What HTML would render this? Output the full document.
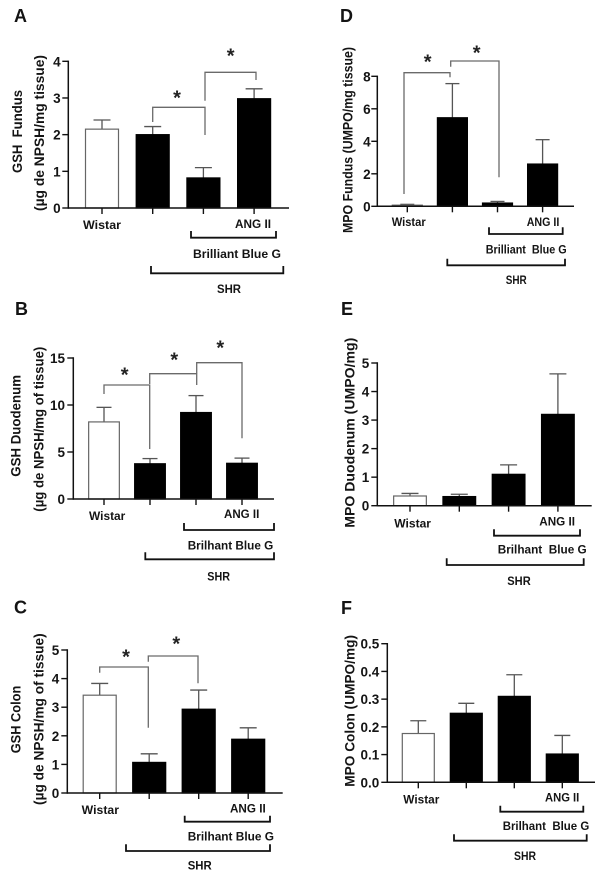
<!DOCTYPE html>
<html lang="en">
<head>
<meta charset="utf-8">
<title>GSH and MPO bar charts</title>
<style>
html,body{margin:0;padding:0;background:#fff;width:600px;height:878px;overflow:hidden}
svg{display:block}
text{font-family:"Liberation Sans",sans-serif;font-weight:bold;fill:#141414}
.letter{font-size:18px}
.yl{font-size:14px}
.xl{font-size:12px}
.star{font-size:20px;text-anchor:middle;fill:#222}
.sig{fill:none;stroke:#6a6a6a;stroke-width:1.3}
.grp{fill:none;stroke:#111;stroke-width:1.8}
</style>
</head>
<body>
<svg id="figure" width="600" height="878" viewBox="0 0 600 878" xmlns="http://www.w3.org/2000/svg">
<rect width="600" height="878" fill="#fff"/>

<!-- Panel A -->
<g>
<text class="letter" x="14" y="22">A</text>
<text class="yl" transform="translate(22,173) rotate(-90)" textLength="83" lengthAdjust="spacingAndGlyphs" xml:space="preserve">GSH  Fundus</text>
<text class="yl" transform="translate(44,211) rotate(-90)" textLength="156" lengthAdjust="spacingAndGlyphs">(µg de NPSH/mg tissue)</text>
<text class="xl" x="83" y="229" textLength="38" lengthAdjust="spacingAndGlyphs">Wistar</text>
<text class="xl" x="235" y="228" textLength="36" lengthAdjust="spacingAndGlyphs">ANG II</text>
<path class="grp" d="M191 231V237.7H276V231"/>
<text class="xl" x="193" y="258" textLength="88" lengthAdjust="spacingAndGlyphs">Brilliant Blue G</text>
<path class="grp" d="M151 266V273.3H283.3V266"/>
<text class="xl" x="217" y="293" textLength="24" lengthAdjust="spacingAndGlyphs">SHR</text>
<path class="sig" d="M152.7 122V107.3H205V135"/>
<path class="sig" d="M205 100.7V72.3H256V80"/>
<text class="star" x="177" y="104.5">*</text>
<text class="star" x="230.7" y="62.5">*</text>
</g>

<!-- Panel D -->
<g>
<text class="letter" x="340" y="22">D</text>
<text class="yl" transform="translate(352.3,233) rotate(-90)" textLength="186" lengthAdjust="spacingAndGlyphs">MPO Fundus (UMPO/mg tissue)</text>
<text class="xl" x="391.7" y="226" textLength="34" lengthAdjust="spacingAndGlyphs">Wistar</text>
<text class="xl" x="526.7" y="226" textLength="32.6" lengthAdjust="spacingAndGlyphs">ANG II</text>
<path class="grp" d="M489 227.3V234H562.7V227.3"/>
<text class="xl" x="485.7" y="253.3" textLength="81" lengthAdjust="spacingAndGlyphs" xml:space="preserve">Brilliant  Blue G</text>
<path class="grp" d="M447.3 258.7V265.3H565V258.7"/>
<text class="xl" x="505.7" y="284" textLength="21" lengthAdjust="spacingAndGlyphs">SHR</text>
<path class="sig" d="M404 194V72.7H450V77.3"/>
<path class="sig" d="M450.7 66.7V61H499V177.3"/>
<text class="star" x="427.7" y="68.5">*</text>
<text class="star" x="476.7" y="59.5">*</text>
</g>

<!-- Panel B -->
<g>
<text class="letter" x="15" y="315">B</text>
<text class="yl" transform="translate(20.7,476.7) rotate(-90)" textLength="101.7" lengthAdjust="spacingAndGlyphs">GSH Duodenum</text>
<text class="yl" transform="translate(43.3,511.7) rotate(-90)" textLength="165" lengthAdjust="spacingAndGlyphs">(µg de NPSH/mg of tissue)</text>
<text class="xl" x="89" y="520" textLength="36.3" lengthAdjust="spacingAndGlyphs">Wistar</text>
<text class="xl" x="224" y="518" textLength="35.3" lengthAdjust="spacingAndGlyphs">ANG II</text>
<path class="grp" d="M184 523V530H274V523"/>
<text class="xl" x="187.7" y="549.3" textLength="85.6" lengthAdjust="spacingAndGlyphs">Brilhant Blue G</text>
<path class="grp" d="M145.3 552.3V559.3H274V552.3"/>
<text class="xl" x="207.3" y="580.7" textLength="22.7" lengthAdjust="spacingAndGlyphs">SHR</text>
<path class="sig" d="M104 394V385H149.7V449"/>
<path class="sig" d="M149.7 384V373.7H196.7V385"/>
<path class="sig" d="M196.7 373.3V362.7H242V438.3"/>
<text class="star" x="124.7" y="381.5">*</text>
<text class="star" x="174.3" y="366.5">*</text>
<text class="star" x="220.3" y="354.5">*</text>
</g>

<!-- Panel E -->
<g>
<text class="letter" x="341" y="315">E</text>
<text class="yl" transform="translate(354.3,527.7) rotate(-90)" textLength="190" lengthAdjust="spacingAndGlyphs">MPO Duodenum (UMPO/mg)</text>
<text class="xl" x="394.3" y="527.3" textLength="36.7" lengthAdjust="spacingAndGlyphs">Wistar</text>
<text class="xl" x="539.3" y="525.7" textLength="35.7" lengthAdjust="spacingAndGlyphs">ANG II</text>
<path class="grp" d="M494 529.3V535.7H580V529.3"/>
<text class="xl" x="497.7" y="553.3" textLength="89" lengthAdjust="spacingAndGlyphs" xml:space="preserve">Brilhant  Blue G</text>
<path class="grp" d="M446.7 558.3V565H583.7V558.3"/>
<text class="xl" x="507.3" y="585" textLength="23.4" lengthAdjust="spacingAndGlyphs">SHR</text>
</g>

<!-- Panel C -->
<g>
<text class="letter" x="14" y="613.3">C</text>
<text class="yl" transform="translate(20.7,753.3) rotate(-90)" textLength="67.6" lengthAdjust="spacingAndGlyphs">GSH Colon</text>
<text class="yl" transform="translate(43.3,805) rotate(-90)" textLength="171.7" lengthAdjust="spacingAndGlyphs">(µg de NPSH/mg of tissue)</text>
<text class="xl" x="81.7" y="814" textLength="37.3" lengthAdjust="spacingAndGlyphs">Wistar</text>
<text class="xl" x="230" y="812.7" textLength="35.7" lengthAdjust="spacingAndGlyphs">ANG II</text>
<path class="grp" d="M184.7 815.7V821.7H270V815.7"/>
<text class="xl" x="187.7" y="840.7" textLength="86.3" lengthAdjust="spacingAndGlyphs">Brilhant Blue G</text>
<path class="grp" d="M126 844.3V851H270V844.3"/>
<text class="xl" x="187.7" y="869.3" textLength="24" lengthAdjust="spacingAndGlyphs">SHR</text>
<path class="sig" d="M99.7 672.7V667H148.3V727.7"/>
<path class="sig" d="M148.3 661.7V656H198V683.3"/>
<text class="star" x="126" y="663.5">*</text>
<text class="star" x="176.3" y="650.5">*</text>
</g>

<!-- Panel F -->
<g>
<text class="letter" x="341" y="614">F</text>
<text class="yl" transform="translate(354.3,786.7) rotate(-90)" textLength="151.7" lengthAdjust="spacingAndGlyphs">MPO Colon (UMPO/mg)</text>
<text class="xl" x="403.3" y="803.3" textLength="36" lengthAdjust="spacingAndGlyphs">Wistar</text>
<text class="xl" x="545" y="801.7" textLength="34.3" lengthAdjust="spacingAndGlyphs">ANG II</text>
<path class="grp" d="M500.3 805.7V811.7H583.3V805.7"/>
<text class="xl" x="502.7" y="830" textLength="86.6" lengthAdjust="spacingAndGlyphs" xml:space="preserve">Brilhant  Blue G</text>
<path class="grp" d="M454 834.3V840.7H586.7V834.3"/>
<text class="xl" x="514" y="860" textLength="22" lengthAdjust="spacingAndGlyphs">SHR</text>
</g>
</svg>

<script>
// Data
const categories = ['wistar', 'shr', 'shr-bbg', 'shr-bbg-ang-ii'];

const gshFundusValues = [2.15, 2.0, 0.82, 2.98];
const gshFundusErrors = [0.25, 0.22, 0.28, 0.27];
const gshFundusTicks = ['0', '1', '2', '3', '4'];

const mpoFundusValues = [0.07, 5.45, 0.2, 2.6];
const mpoFundusErrors = [0.05, 2.1, 0.1, 1.5];
const mpoFundusTicks = ['0', '2', '4', '6', '8'];

const gshDuodenumValues = [8.2, 3.75, 9.2, 3.8];
const gshDuodenumErrors = [1.55, 0.55, 1.8, 0.55];
const gshDuodenumTicks = ['0', '5', '10', '15'];

const mpoDuodenumValues = [0.34, 0.32, 1.1, 3.2];
const mpoDuodenumErrors = [0.09, 0.08, 0.33, 1.42];
const mpoDuodenumTicks = ['0', '1', '2', '3', '4', '5'];

const gshColonValues = [3.42, 1.07, 2.93, 1.88];
const gshColonErrors = [0.41, 0.30, 0.67, 0.40];
const gshColonTicks = ['0', '1', '2', '3', '4', '5'];

const mpoColonValues = [0.176, 0.249, 0.31, 0.102];
const mpoColonErrors = [0.046, 0.036, 0.078, 0.067];
const mpoColonTicks = ['0.0', '0.1', '0.2', '0.3', '0.4', '0.5'];

const SVG_NS = 'http://www.w3.org/2000/svg';
const figure = document.getElementById('figure');

function shape(tag, attrs, parent) {
  const el = document.createElementNS(SVG_NS, tag);
  for (const k in attrs) el.setAttribute(k, attrs[k]);
  parent.appendChild(el);
  return el;
}

function drawPanel(id, values, errors, ticks, box) {
  const axisMax = Number(ticks[ticks.length - 1]);
  const yScale = v => box.bottom - (v / axisMax) * (box.bottom - box.top);
  const xScale = i => box.firstCenter + i * box.step;

  const group = shape('g', {}, figure);
  
  

  values.forEach((value, i) => {
    const cx = xScale(i);
    const top = yScale(value + errors[i]);
    const stem = shape('line', {x1: cx, x2: cx, y1: yScale(value), y2: top, stroke: '#555', 'stroke-width': 1.3}, group);
    
    
    const cap = shape('line', {x1: cx - box.cap / 2, x2: cx + box.cap / 2, y1: top, y2: top, stroke: '#555', 'stroke-width': 1.3}, group);
    
    
    const isWhite = i === 0;
    const bar = shape('rect', {
      x: cx - box.barWidth / 2,
      y: yScale(value),
      width: box.barWidth,
      height: box.bottom - yScale(value),
      fill: isWhite ? '#fff' : '#000',
      stroke: isWhite ? '#666' : '#000',
      'stroke-width': 1.2
    }, group);
    
    
    const xTick = shape('line', {x1: cx, x2: cx, y1: box.bottom, y2: box.bottom + 6, stroke: '#111', 'stroke-width': 1.4}, group);
    
    
  });

  ticks.forEach(label => {
    const y = yScale(Number(label));
    const yTick = shape('line', {x1: box.left - 6, x2: box.left, y1: y, y2: y, stroke: '#111', 'stroke-width': 1.4}, group);
    
    
    const text = shape('text', {x: box.labelRight, y: y + 5, 'text-anchor': 'end', 'font-size': 13.5}, group);
    text.textContent = label;
    
    
  });

  const yAxis = shape('line', {x1: box.left, x2: box.left, y1: box.top - 0.7, y2: box.bottom + 0.7, stroke: '#111', 'stroke-width': 1.5}, group);
  
  
  const xAxis = shape('line', {x1: box.left, x2: box.right, y1: box.bottom, y2: box.bottom, stroke: '#111', 'stroke-width': 1.5}, group);
  
  
}

drawPanel('gsh-fundus', gshFundusValues, gshFundusErrors, gshFundusTicks,
  {left: 68.3, right: 289, top: 61.3, bottom: 208, firstCenter: 102, step: 50.7, barWidth: 33, cap: 17, labelRight: 60.7});
drawPanel('mpo-fundus', mpoFundusValues, mpoFundusErrors, mpoFundusTicks,
  {left: 377.3, right: 574, top: 76.3, bottom: 206.3, firstCenter: 407.3, step: 45.1, barWidth: 30, cap: 14, labelRight: 370.7});
drawPanel('gsh-duodenum', gshDuodenumValues, gshDuodenumErrors, gshDuodenumTicks,
  {left: 73.3, right: 274, top: 358, bottom: 499, firstCenter: 104, step: 46, barWidth: 30.7, cap: 15, labelRight: 65});
drawPanel('mpo-duodenum', mpoDuodenumValues, mpoDuodenumErrors, mpoDuodenumTicks,
  {left: 377.3, right: 591.7, top: 363, bottom: 505.7, firstCenter: 410, step: 49.3, barWidth: 32.7, cap: 17, labelRight: 369.3});
drawPanel('gsh-colon', gshColonValues, gshColonErrors, gshColonTicks,
  {left: 67.3, right: 282.7, top: 650, bottom: 793, firstCenter: 99.7, step: 49.5, barWidth: 33, cap: 17, labelRight: 59.3});
drawPanel('mpo-colon', mpoColonValues, mpoColonErrors, mpoColonTicks,
  {left: 387.3, right: 595, top: 643.7, bottom: 782.3, firstCenter: 418.3, step: 48, barWidth: 32, cap: 16, labelRight: 379.3});
</script>
</body>
</html>
